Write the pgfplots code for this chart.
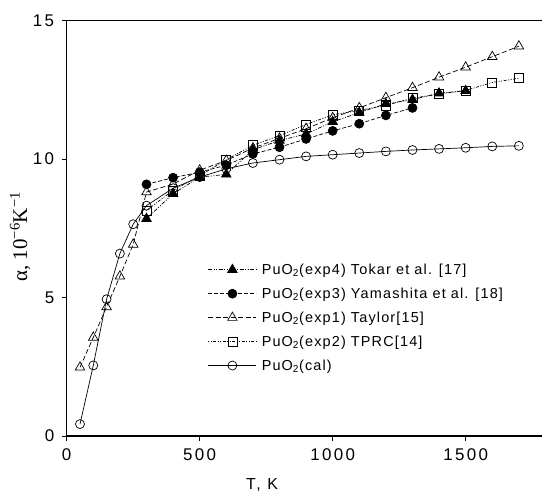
\documentclass[border=0pt]{standalone}
\usepackage{fontspec}
\setmainfont{Liberation Sans}
\newfontfamily\tickfont[LetterSpace=14]{Liberation Sans}
\newfontfamily\legfont[LetterSpace=8]{Liberation Sans}
\newfontfamily\seriffont{Liberation Serif}
\usepackage{pgfplots}
\pgfplotsset{compat=1.18}
\begin{document}
\begin{tikzpicture}[x=1bp,y=1bp]
\begin{axis}[
  name=ax,
  scale only axis,
  width=475.3bp, height=415.3bp,
  xmin=0, xmax=1787, ymin=0, ymax=15,
  xtick={0,500,1000,1500}, ytick={0,5,10,15},
  xtick pos=bottom, ytick pos=left,
  tick align=outside,
  major tick length=5bp,
  tick style={line width=0.8bp, black},
  axis line style={draw=none},
  /pgf/number format/assume math mode=true,
  /pgf/number format/set thousands separator={},
  tick label style={font=\tickfont\fontsize{17}{20}\selectfont},
  xticklabel style={yshift=-4bp},
  yticklabel style={xshift=-4bp},
  xlabel={T, K},
  xlabel style={font=\tickfont\fontsize{16}{19}\selectfont, at={(axis description cs:0.411,-0.118)}, anchor=center},
  ylabel={\seriffont α, 10\textsuperscript{−6}K\textsuperscript{−1}},
  ylabel style={font=\fontsize{21}{24}\selectfont, at={(axis description cs:-0.098,0.48)}, anchor=center},
  legend style={draw=none, fill=none, at={(axis description cs:0.297,0.42)}, anchor=north west,
    font=\legfont\fontsize{14.5}{17}\selectfont, row sep=8bp, inner sep=0pt,
    nodes={inner xsep=5bp}},
  legend cell align=left,
  legend image code/.code={\draw[mark repeat=2,mark phase=2] plot coordinates {(0bp,0bp) (24bp,0bp) (48bp,0bp)};},
  every axis plot/.append style={line width=0.7bp, black},
  clip=false,
]
% Tokar exp4
\addplot[dash pattern=on 4bp off 1.5bp on 1bp off 1.5bp on 1bp off 1.5bp, mark=triangle*, mark size=5.5bp, mark options={solid, fill=black}] coordinates {
(300,7.85) (400,8.75) (500,9.35) (600,9.45) (700,10.34) (800,10.67) (900,10.91) (1000,11.35) (1100,11.68) (1200,12.0) (1300,12.15) (1400,12.38) (1500,12.47)};
\addlegendentry{PuO\textsubscript{2}(exp4) Tokar et al. [17]}
% Yamashita exp3
\addplot[dash pattern=on 4bp off 2bp, mark=*, mark size=4.5bp, mark options={solid, fill=black}] coordinates {
(300,9.09) (400,9.33) (500,9.53) (600,9.78) (700,10.19) (800,10.43) (900,10.73) (1000,11.02) (1100,11.28) (1200,11.58) (1300,11.85)};
\addlegendentry{PuO\textsubscript{2}(exp3) Yamashita et al. [18]}
% Taylor exp1
\addplot[dash pattern=on 5bp off 2.5bp, mark=triangle, mark size=5.5bp, mark options={solid, fill=white}] coordinates {
(50,2.48) (100,3.56) (150,4.66) (200,5.77) (250,6.92) (300,8.81) (400,9.1) (500,9.6) (600,9.95) (700,10.4) (800,10.75) (900,11.1) (1000,11.49) (1100,11.85) (1200,12.22) (1300,12.58) (1400,12.96) (1500,13.32) (1600,13.70) (1700,14.08)};
\addlegendentry{PuO\textsubscript{2}(exp1) Taylor[15]}
% TPRC exp2
\addplot[dash pattern=on 1bp off 1.5bp on 1bp off 1.5bp on 3bp off 1.5bp, mark=square, mark size=4.5bp, mark options={solid, fill=white}] coordinates {
(300,8.15) (400,8.87) (500,9.4) (600,9.98) (700,10.5) (800,10.85) (900,11.25) (1000,11.6) (1100,11.76) (1200,11.94) (1300,12.2) (1400,12.35) (1500,12.48) (1600,12.77) (1700,12.92)};
\addlegendentry{PuO\textsubscript{2}(exp2) TPRC[14]}
% cal
\addplot[solid, mark=o, mark size=4.5bp, mark options={solid, fill=white}] coordinates {
(50,0.43) (100,2.55) (150,4.94) (200,6.59) (250,7.65) (300,8.32) (400,8.95) (500,9.35) (600,9.65) (700,9.86) (800,9.98) (900,10.1) (1000,10.16) (1100,10.22) (1200,10.28) (1300,10.33) (1400,10.37) (1500,10.41) (1600,10.46) (1700,10.48)};
\addlegendentry{PuO\textsubscript{2}(cal)}
\draw[line width=1.1bp] (rel axis cs:1,1) -- (rel axis cs:0,1) -- (rel axis cs:0,0) -- (rel axis cs:1,0);
\end{axis}
\pgfresetboundingbox
\path[use as bounding box] ([xshift=-66.7bp,yshift=-57bp]ax.south west) rectangle ([yshift=20.7bp]ax.north east);
\end{tikzpicture}
\end{document}
